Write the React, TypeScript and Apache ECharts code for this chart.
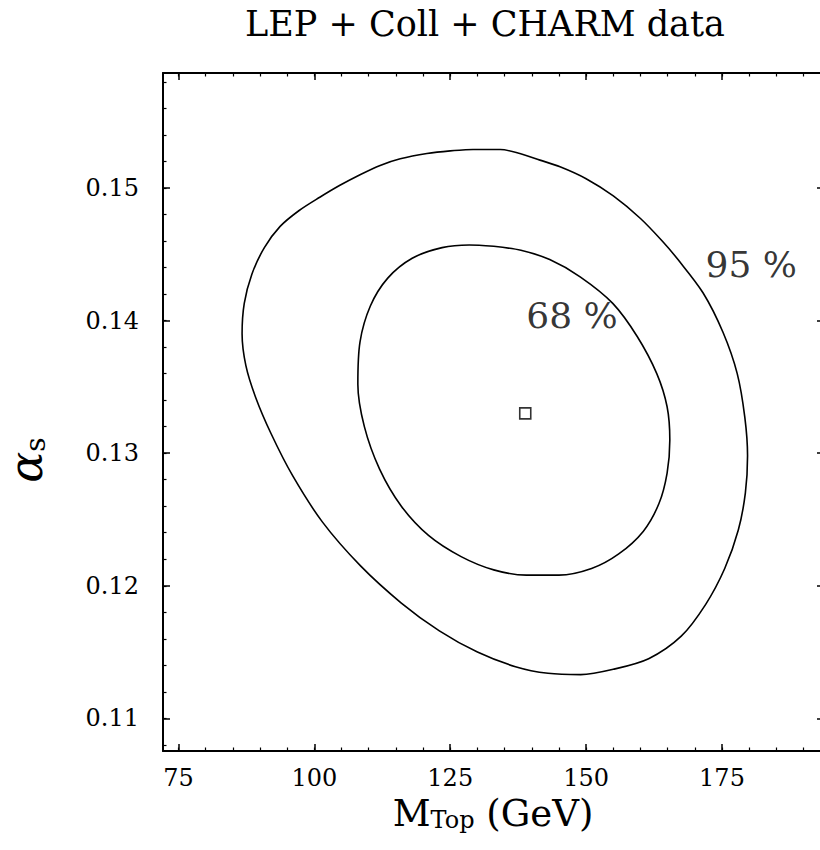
import React, { useEffect, useRef } from "react";
import * as echarts from "echarts";

// ---- data ----
const title = "LEP + Coll + CHARM data";

const xMajorTicks = [75, 100, 125, 150, 175];
const xMinorTicks = [75, 80, 85, 90, 95, 100, 105, 110, 115, 120, 125, 130, 135, 140, 145, 150, 155, 160, 165, 170, 175, 180, 185, 190];
const yMajorTicks = [0.11, 0.12, 0.13, 0.14, 0.15];
const yMinorTicks = [0.108, 0.11, 0.112, 0.114, 0.116, 0.118, 0.12, 0.122, 0.124, 0.126, 0.128, 0.13, 0.132, 0.134, 0.136, 0.138, 0.14, 0.142, 0.144, 0.146, 0.148, 0.15, 0.152, 0.154, 0.156, 0.158];

// 95% CL contour (M_top, alpha_s)
const contour95: [number, number][] = [
  [129.2, 0.1529], [134.2, 0.1529], [137.8, 0.1526], [141.5, 0.1521], [145.2, 0.1516],
  [150, 0.1507], [155, 0.1494], [160, 0.1477], [164, 0.146], [166.9, 0.1446],
  [171.5, 0.1421], [175.2, 0.1391], [177.8, 0.136], [179.2, 0.1327], [179.7, 0.1298],
  [179.3, 0.127], [178, 0.1242], [175.5, 0.1213], [172, 0.1186], [167.5, 0.1162],
  [161.5, 0.1145], [155, 0.1137], [149, 0.1133], [143, 0.1134], [137, 0.1139],
  [130, 0.115], [123, 0.1166], [116, 0.1187], [108.5, 0.1215], [101.5, 0.1248],
  [96, 0.1283], [92, 0.1315], [89.2, 0.1342], [87.4, 0.1366], [86.7, 0.139],
  [87.1, 0.1413], [88.5, 0.1435], [90.8, 0.1455], [93.7, 0.1471], [97.2, 0.1483],
  [101, 0.1493], [104.7, 0.1502], [108.4, 0.151], [112.1, 0.1517], [115.8, 0.1522],
  [120.7, 0.1526], [125, 0.1528], [129.2, 0.1529],
];

// 68% CL contour
const contour68: [number, number][] = [
  [133, 0.1456], [138, 0.1453], [143.3, 0.1446], [148.9, 0.1433], [154.9, 0.1413],
  [159.4, 0.1388], [163, 0.136], [164.9, 0.1335], [165.4, 0.131], [164.9, 0.1285],
  [163.4, 0.1262], [160.5, 0.1241], [156, 0.1224], [151, 0.1213], [145, 0.1208],
  [139, 0.1208], [133, 0.1212], [127, 0.1222], [121, 0.1238], [116, 0.126],
  [112, 0.1288], [109.2, 0.132], [108, 0.1352], [108.4, 0.1384], [110.3, 0.1411],
  [113.5, 0.1432], [118, 0.1447], [123.5, 0.1455], [128.5, 0.1457], [133, 0.1456],
];

const bestFit: [number, number][] = [[138.8, 0.1330]];

const clLabels = [
  { name: "68 %", value: [147.4, 0.1404] },
  { name: "95 %", value: [180.4, 0.1442] },
];

const X_MIN = 72.15;
const X_MAX = 193.03;
const Y_MIN = 0.10754;
const Y_MAX = 0.15867;

const FONT = "DejaVu Serif";

export default function App() {
  const ref = useRef<HTMLDivElement>(null);

  useEffect(() => {
    if (!ref.current) return;
    document.body.style.margin = "0";
    const chart = echarts.init(ref.current, undefined, { renderer: "svg" });

    const lineBlack = { color: "#000", width: 2 };
    const majorTickStyle = { color: "#000", width: 1.5 };
    const minorTickStyle = { color: "#000", width: 1.2 };

    const xAxisBase = {
      type: "value",
      min: X_MIN,
      max: X_MAX,
      splitLine: { show: false },
    };
    const yAxisBase = {
      type: "value",
      min: Y_MIN,
      max: Y_MAX,
      splitLine: { show: false },
    };

    const option: any = {
      animation: false,
      backgroundColor: "#fff",
      grid: { left: 163, top: 73, width: 657, height: 678, outerBoundsMode: "none", containLabel: false },
      xAxis: [
        {
          ...xAxisBase,
          position: "bottom",
          axisLine: { show: true, lineStyle: lineBlack },
          axisTick: { show: true, inside: true, length: 7, customValues: xMajorTicks, lineStyle: majorTickStyle },
          axisLabel: {
            show: true,
            customValues: xMajorTicks,
            margin: 15,
            color: "#000",
            fontFamily: FONT,
            fontSize: 24,
            formatter: (v: number) => String(Math.round(v)),
          },
        },
        {
          ...xAxisBase,
          position: "bottom",
          axisLine: { show: false },
          axisTick: { show: true, inside: true, length: 3.5, customValues: xMinorTicks, lineStyle: minorTickStyle },
          axisLabel: { show: false },
        },
        {
          ...xAxisBase,
          position: "top",
          axisLine: { show: true, lineStyle: lineBlack },
          axisTick: { show: true, inside: true, length: 7, customValues: xMajorTicks, lineStyle: majorTickStyle },
          axisLabel: { show: false },
        },
        {
          ...xAxisBase,
          position: "top",
          axisLine: { show: false },
          axisTick: { show: true, inside: true, length: 3.5, customValues: xMinorTicks, lineStyle: minorTickStyle },
          axisLabel: { show: false },
        },
      ],
      yAxis: [
        {
          ...yAxisBase,
          position: "left",
          axisLine: { show: true, lineStyle: lineBlack },
          axisTick: { show: true, inside: true, length: 7, customValues: yMajorTicks, lineStyle: majorTickStyle },
          axisLabel: {
            show: true,
            customValues: yMajorTicks,
            margin: 24,
            color: "#000",
            fontFamily: FONT,
            fontSize: 24,
            formatter: (v: number) => v.toFixed(2),
          },
        },
        {
          ...yAxisBase,
          position: "left",
          axisLine: { show: false },
          axisTick: { show: true, inside: true, length: 3.5, customValues: yMinorTicks, lineStyle: minorTickStyle },
          axisLabel: { show: false },
        },
        {
          ...yAxisBase,
          position: "right",
          axisLine: { show: false },
          axisTick: { show: true, inside: true, length: 3, customValues: yMajorTicks, lineStyle: majorTickStyle },
          axisLabel: { show: false },
        },
      ],
      series: [
        {
          name: "95%",
          type: "line",
          xAxisIndex: 0,
          yAxisIndex: 0,
          data: contour95,
          showSymbol: false,
          smooth: 0.3,
          lineStyle: { color: "#000", width: 1.6 },
          silent: true,
        },
        {
          name: "68%",
          type: "line",
          xAxisIndex: 0,
          yAxisIndex: 0,
          data: contour68,
          showSymbol: false,
          smooth: 0.3,
          lineStyle: { color: "#000", width: 1.6 },
          silent: true,
        },
        {
          name: "best fit",
          type: "scatter",
          xAxisIndex: 0,
          yAxisIndex: 0,
          data: bestFit,
          symbol: "rect",
          symbolSize: 11,
          itemStyle: { color: "#fff", borderColor: "#000", borderWidth: 1.6 },
          silent: true,
        },
        {
          name: "labels",
          type: "scatter",
          xAxisIndex: 0,
          yAxisIndex: 0,
          data: clLabels,
          symbolSize: 0,
          itemStyle: { color: "transparent" },
          label: {
            show: true,
            position: "inside",
            formatter: (p: any) => p.name,
            color: "#000",
            fontFamily: FONT,
            fontSize: 36,
          },
          silent: true,
        },
      ],
      graphic: [
        {
          type: "text",
          x: 485,
          y: 24,
          style: {
            text: title,
            fill: "#000",
            font: `35px '${FONT}'`,
            align: "center",
            verticalAlign: "middle",
          },
        },
        {
          type: "text",
          x: 493,
          y: 811,
          style: {
            text: "{a|M}{b|Top}{a| (GeV)}",
            align: "center",
            verticalAlign: "middle",
            rich: {
              a: { fontFamily: FONT, fontSize: 37, lineHeight: 42, verticalAlign: "bottom", fill: "#000" },
              b: { fontFamily: FONT, fontSize: 24, lineHeight: 17, verticalAlign: "bottom", fill: "#000" },
            },
          },
        },
        {
          type: "text",
          x: 25,
          y: 460,
          rotation: Math.PI / 2,
          style: {
            text: "{a|α}{b|s}",
            align: "center",
            verticalAlign: "middle",
            rich: {
              a: { fontFamily: FONT, fontStyle: "italic", fontSize: 46, lineHeight: 48, verticalAlign: "bottom", fill: "#000" },
              b: { fontFamily: FONT, fontSize: 28, lineHeight: 20, verticalAlign: "bottom", fill: "#000" },
            },
          },
        },
      ],
    };

    chart.setOption(option);
    return () => chart.dispose();
  }, []);

  return <div ref={ref} style={{ width: 820, height: 850 }} />;
}
